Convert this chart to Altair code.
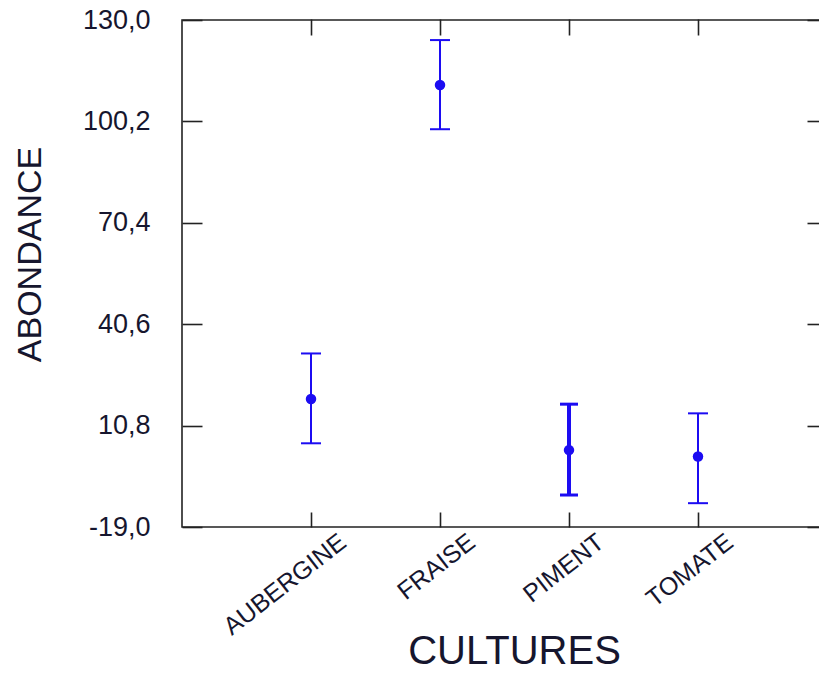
import altair as alt
import pandas as pd

# Mean abundance per crop with the ends of its interval
cultures = ["AUBERGINE", "FRAISE", "PIMENT", "TOMATE"]
moyennes = [18.6, 110.9, 3.6, 1.7]
bornes_inf = [5.6, 97.9, -9.6, -12.0]
bornes_sup = [32.0, 124.1, 17.1, 14.4]

y_ticks = [-19.0, 10.8, 40.6, 70.4, 100.2, 130.0]

df = pd.DataFrame({
    "culture": cultures,
    "moyenne": moyennes,
    "inf": bornes_inf,
    "sup": bornes_sup,
})

BLUE = "#1c0cf2"
INK = "#16162e"
FONT = "Liberation Sans"

x_scale = alt.Scale(type="point", padding=1)
y_scale = alt.Scale(domain=[-19, 130], nice=False, zero=False)

# decimal comma and a plain hyphen for negatives
comma_label = ("(datum.value < 0 ? '-' : '') + "
               "replace(format(abs(datum.value), '.1f'), '.', ',')")

x_bottom = alt.Axis(
    orient="bottom", offset=-15, tickSize=15, domain=False, grid=False,
    labelAngle=-38, labelAlign="right", labelBaseline="top",
    labelOffset=24, labelPadding=2, labelFontSize=25,
    title="CULTURES", titleFontSize=40, titleFontWeight="normal",
    titleAnchor="middle", titleBaseline="alphabetic", titleY=151,
    titleX=332,
)
y_left = alt.Axis(
    orient="left", offset=-20, tickSize=20, domain=False, grid=False,
    values=y_ticks, labelExpr=comma_label, labelPadding=32,
    labelFontSize=27, labelAlign="right", labelBaseline="middle",
    title="ABONDANCE", titleFontSize=34, titleFontWeight="normal",
    titleAngle=270, titleAlign="center", titleBaseline="middle",
    titleX=-172, titleY=234,
)
x_top = alt.Axis(orient="top", offset=-15, tickSize=16, domain=False,
                 grid=False, labels=False, title=None)
y_right = alt.Axis(orient="right", offset=-20, tickSize=20, domain=False,
                   grid=False, labels=False, title=None, values=y_ticks)

base = alt.Chart(df)
x_enc = alt.X("culture:N", sort=cultures, scale=x_scale, axis=None)

# vertical interval lines, drawn heavier for PIMENT
rules = base.mark_rule(color=BLUE).encode(
    x=alt.X("culture:N", sort=cultures, scale=x_scale, axis=x_bottom),
    y=alt.Y("inf:Q", scale=y_scale, axis=y_left),
    y2="sup:Q",
    strokeWidth=alt.condition(alt.datum.culture == "PIMENT",
                              alt.value(4), alt.value(2)),
)

thin = base.transform_filter(alt.datum.culture != "PIMENT")
thick = base.transform_filter(alt.datum.culture == "PIMENT")

caps = []
for src, th, sz in [(thin, 2, 20), (thick, 3, 18)]:
    for field in ["inf", "sup"]:
        caps.append(
            src.mark_tick(color=BLUE, orient="horizontal", size=sz,
                          thickness=th, opacity=1).encode(
                x=x_enc,
                y=alt.Y(f"{field}:Q", scale=y_scale, axis=None),
            )
        )

points = base.mark_circle(color=BLUE, size=110, opacity=1).encode(
    x=x_enc,
    y=alt.Y("moyenne:Q", scale=y_scale, axis=None),
)

# mirrored ticks on the top and right edges of the frame
mirror = base.mark_point(opacity=0).encode(
    x=alt.X("culture:N", sort=cultures, scale=x_scale, axis=x_top),
    y=alt.Y("moyenne:Q", scale=y_scale, axis=y_right),
)

chart = (
    alt.layer(rules, *caps, points, mirror)
    .resolve_axis(x="independent", y="independent")
    .properties(
        width=645, height=507,
        autosize=alt.AutoSizeParams(type="none"),
        padding={"left": 182, "top": 20, "right": -8, "bottom": 148},
        background="white",
    )
    .configure_view(stroke="#222222", strokeWidth=1.6)
    .configure_axis(
        tickColor="#222222", tickWidth=1.6,
        labelFont=FONT, titleFont=FONT,
        labelColor=INK, titleColor=INK,
    )
)

chart.save("out.html", embed_options={"renderer": "svg", "actions": False})
